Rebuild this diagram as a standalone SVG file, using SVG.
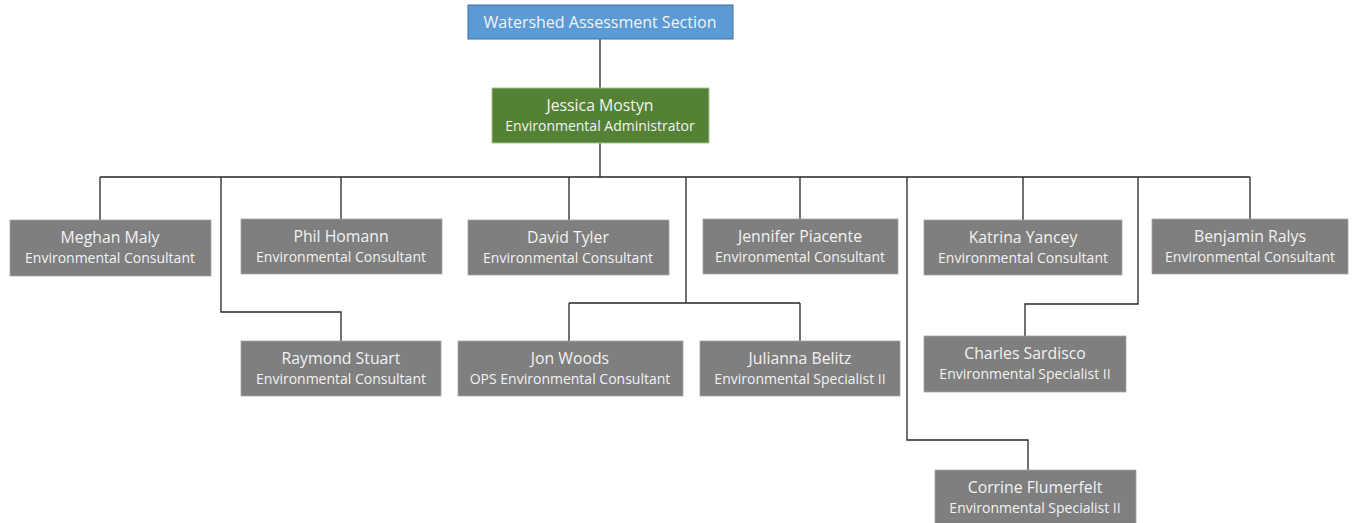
<svg xmlns="http://www.w3.org/2000/svg" width="1355" height="523" viewBox="0 0 1355 523">
<style>
.bg{fill:#ffffff}
.box{fill:#7f7f7f;stroke:#a6a6a6;stroke-width:0.8}
.top{fill:#5b9bd5;stroke:#41719c;stroke-width:1}
.adm{fill:#548235;stroke:#a9c08f;stroke-width:1}
text{font-family:"Open Sans","Liberation Sans",sans-serif;fill:#f2f2f2;text-anchor:middle}
.n{font-size:15.8px}
.t{font-size:14px}
.h{font-size:16px}
.c{fill:none;stroke:#262626;stroke-width:1.3}
</style>
<rect class="bg" x="0" y="0" width="1355" height="523"/>
<g id="connectors">
<path class="c" d="M600 39V88M600 143V177M100 177H1250M100 177V220M221 177V312H341V341M341 177V219M569 177V220M686 177V303M569 303H800M569 303V341M800 303V341M800 177V219M907 177V440H1028V470M1023 177V220M1138 177V304H1025V336M1250 177V219"/>
</g>
<g id="n-watershed"><rect class="top" x="468" y="5" width="265" height="34"/><text class="h" x="600" y="27.5">Watershed Assessment Section</text></g>
<g id="n-jessica"><rect class="adm" x="492" y="88" width="217" height="55"/><text class="n" x="600" y="110.5">Jessica Mostyn</text><text class="t" x="600" y="131">Environmental Administrator</text></g>
<g id="n-meghan"><rect class="box" x="10" y="220" width="201" height="56"/><text class="n" x="110" y="242.5">Meghan Maly</text><text class="t" x="110" y="263">Environmental Consultant</text></g>
<g id="n-phil"><rect class="box" x="241" y="219" width="201" height="55"/><text class="n" x="341" y="241.5">Phil Homann</text><text class="t" x="341" y="262">Environmental Consultant</text></g>
<g id="n-david"><rect class="box" x="468" y="220" width="201" height="55"/><text class="n" x="568" y="242.5">David Tyler</text><text class="t" x="568" y="263">Environmental Consultant</text></g>
<g id="n-jennifer"><rect class="box" x="703" y="219" width="195" height="55"/><text class="n" x="800" y="241.5">Jennifer Piacente</text><text class="t" x="800" y="262">Environmental Consultant</text></g>
<g id="n-katrina"><rect class="box" x="924" y="220" width="198" height="55"/><text class="n" x="1023" y="242.5">Katrina Yancey</text><text class="t" x="1023" y="263">Environmental Consultant</text></g>
<g id="n-benjamin"><rect class="box" x="1152" y="219" width="196" height="55"/><text class="n" x="1250" y="241.5">Benjamin Ralys</text><text class="t" x="1250" y="262">Environmental Consultant</text></g>
<g id="n-raymond"><rect class="box" x="241" y="341" width="200" height="55"/><text class="n" x="341" y="363.5">Raymond Stuart</text><text class="t" x="341" y="384">Environmental Consultant</text></g>
<g id="n-jon"><rect class="box" x="458" y="341" width="225" height="55"/><text class="n" x="570" y="363.5">Jon Woods</text><text class="t" x="570" y="384">OPS Environmental Consultant</text></g>
<g id="n-julianna"><rect class="box" x="700" y="341" width="200" height="55"/><text class="n" x="800" y="363.5">Julianna Belitz</text><text class="t" x="800" y="384">Environmental Specialist II</text></g>
<g id="n-charles"><rect class="box" x="924" y="336" width="202" height="56"/><text class="n" x="1025" y="358.5">Charles Sardisco</text><text class="t" x="1025" y="379">Environmental Specialist II</text></g>
<g id="n-corrine"><rect class="box" x="935" y="470" width="201" height="56"/><text class="n" x="1035" y="492.5">Corrine Flumerfelt</text><text class="t" x="1035" y="513">Environmental Specialist II</text></g>
</svg>
